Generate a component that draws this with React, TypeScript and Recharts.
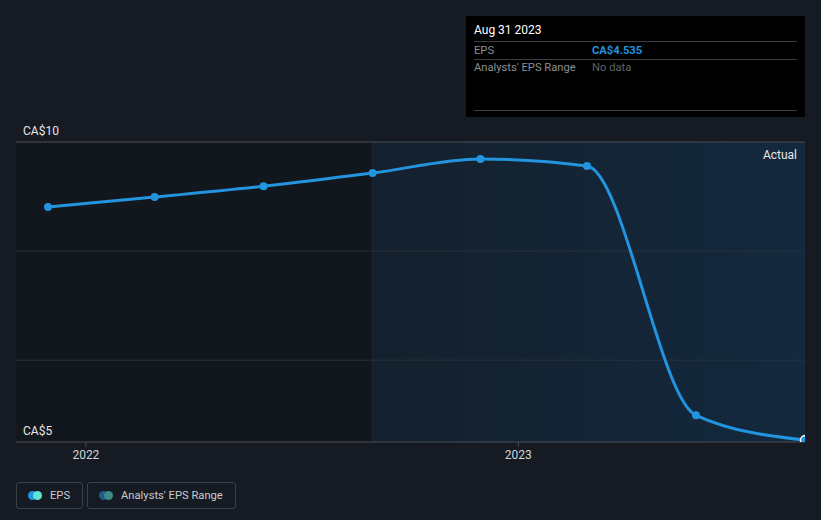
import React from 'react';
import {
  ComposedChart,
  Line,
  XAxis,
  YAxis,
  ReferenceArea,
  ReferenceLine,
  Tooltip
} from 'recharts';

const dates = ['2021-11-30', '2022-02-28', '2022-05-31', '2022-08-31', '2022-11-30', '2023-02-28', '2023-05-31', '2023-08-31'];
const eps = [8.81, 8.99, 9.19, 9.43, 9.69, 9.56, 4.99, 4.535];
const tickDates = ['2022-01-01', '2023-01-01'];
const tickLabels = ['2022', '2023'];
const gridValues = [6, 8, 10];

const toTime = (d: string) => new Date(d + 'T00:00:00Z').getTime();

const chartData = dates.map((d, i) => ({ t: toTime(d), eps: eps[i] }));
const xStart = toTime('2021-11-03');
const xEnd = toTime('2023-08-31');
const actualStart = toTime('2022-08-31');

const BG = '#151a23';
const BLUE = '#2394df';
const FONT = 'Roboto, "Noto Sans", sans-serif';

const TooltipBox = () => (
  <div style={{ width: 339, height: 101, background: '#000', fontFamily: FONT, fontSize: 11.2, boxSizing: 'border-box', padding: '0 8px' }}>
    <div style={{ color: '#fff', height: 25, lineHeight: '28px', fontSize: 12, borderBottom: '1px solid #3a3d42' }}>Aug 31 2023</div>
    <div style={{ display: 'flex', color: '#8c8f94', height: 17, lineHeight: '17px', borderBottom: '1px solid #3a3d42' }}>
      <span style={{ width: 118 }}>EPS</span>
      <span style={{ color: BLUE, fontWeight: 700 }}>CA$4.535</span>
    </div>
    <div style={{ display: 'flex', color: '#8c8f94', height: 50, lineHeight: '16px', borderBottom: '1px solid #3a3d42' }}>
      <span style={{ width: 118 }}>Analysts' EPS Range</span>
      <span style={{ color: '#5f6266' }}>No data</span>
    </div>
  </div>
);

const LegendItem = ({ label, c1, c2 }: { label: string; c1: string; c2: string }) => (
  <div style={{ display: 'flex', alignItems: 'center', height: 25, padding: '0 12px 0 11px', border: '1px solid #3a3f48', borderRadius: 3, color: '#c9cbce', fontSize: 11.2, fontFamily: FONT, marginRight: 4 }}>
    <span style={{ position: 'relative', width: 14, height: 9, marginRight: 8 }}>
      <span style={{ position: 'absolute', left: 0, top: 0, width: 9, height: 9, borderRadius: 5, background: c1 }} />
      <span style={{ position: 'absolute', left: 5, top: 0, width: 9, height: 9, borderRadius: 5, background: c2 }} />
    </span>
    {label}
  </div>
);

const App: React.FC = () => {
  const ticks = tickDates.map(toTime);
  return (
    <div style={{ position: 'absolute', left: 0, top: 0, width: 821, height: 520, background: BG, overflow: 'hidden' }}>
      <ComposedChart
        width={821}
        height={520}
        data={chartData}
        margin={{ top: 142, right: 16, bottom: 48, left: 16 }}
      >
        <defs>
          <linearGradient id="actualFill" x1="0" y1="0" x2="1" y2="0">
            <stop offset="0%" stopColor="#14202d" />
            <stop offset="100%" stopColor="#13293e" />
          </linearGradient>
        </defs>
        <XAxis
          dataKey="t"
          type="number"
          domain={[xStart, xEnd]}
          allowDataOverflow
          ticks={ticks}
          tickFormatter={(v: number) => tickLabels[ticks.indexOf(v)]}
          stroke="#4a4e55"
          tick={{ fill: '#d2d4d6', fontSize: 12, fontFamily: FONT }}
          tickSize={5}
          tickMargin={3}
          height={30}
        />
        <YAxis hide domain={[4.5, 10]} allowDataOverflow />
        <ReferenceArea x1={xStart} x2={actualStart} y1={4.5} y2={10} fill="#12161d" fillOpacity={1} stroke="none" />
        <ReferenceArea
          x1={actualStart}
          x2={xEnd}
          y1={4.5}
          y2={10}
          fill="url(#actualFill)"
          fillOpacity={1}
          stroke="none"
          label={{ value: 'Actual', position: 'insideTopRight', offset: 8, fill: '#e6e7e8', fontSize: 12, fontFamily: FONT }}
        />
        <ReferenceLine x={actualStart} stroke="#1b2633" strokeWidth={1} />
        {gridValues.map((v) => (
          <ReferenceLine
            key={v}
            y={v}
            stroke={v === 10 ? '#4a4e55' : '#2a313b'}
            label={v === 10 ? { value: 'CA$10', position: 'insideBottomLeft', offset: 7, fill: '#e6e7e8', fontSize: 12, fontFamily: FONT } : undefined}
          />
        ))}
        <ReferenceLine
          y={4.5}
          stroke="none"
          label={{ value: 'CA$5', position: 'insideBottomLeft', offset: 7, fill: '#e6e7e8', fontSize: 12, fontFamily: FONT }}
        />
        <Line
          type="monotone"
          dataKey="eps"
          stroke={BLUE}
          strokeWidth={3}
          dot={{ r: 4, fill: BLUE, stroke: BLUE, strokeWidth: 0 }}
          activeDot={{ r: 4.5, fill: BLUE, stroke: '#fff', strokeWidth: 1.5 }}
          isAnimationActive={false}
        />
        <Tooltip
          active
          defaultIndex={7}
          cursor={false}
          position={{ x: 466, y: 16 }}
          content={() => <TooltipBox />}
          isAnimationActive={false}
          wrapperStyle={{ outline: 'none' }}
        />
      </ComposedChart>
      <div style={{ position: 'absolute', left: 16, top: 482, display: 'flex' }}>
        <LegendItem label="EPS" c1={BLUE} c2="#5fe3d3" />
        <LegendItem label="Analysts' EPS Range" c1="#1f5a8c" c2="#3d8a87" />
      </div>
    </div>
  );
};

export default App;
